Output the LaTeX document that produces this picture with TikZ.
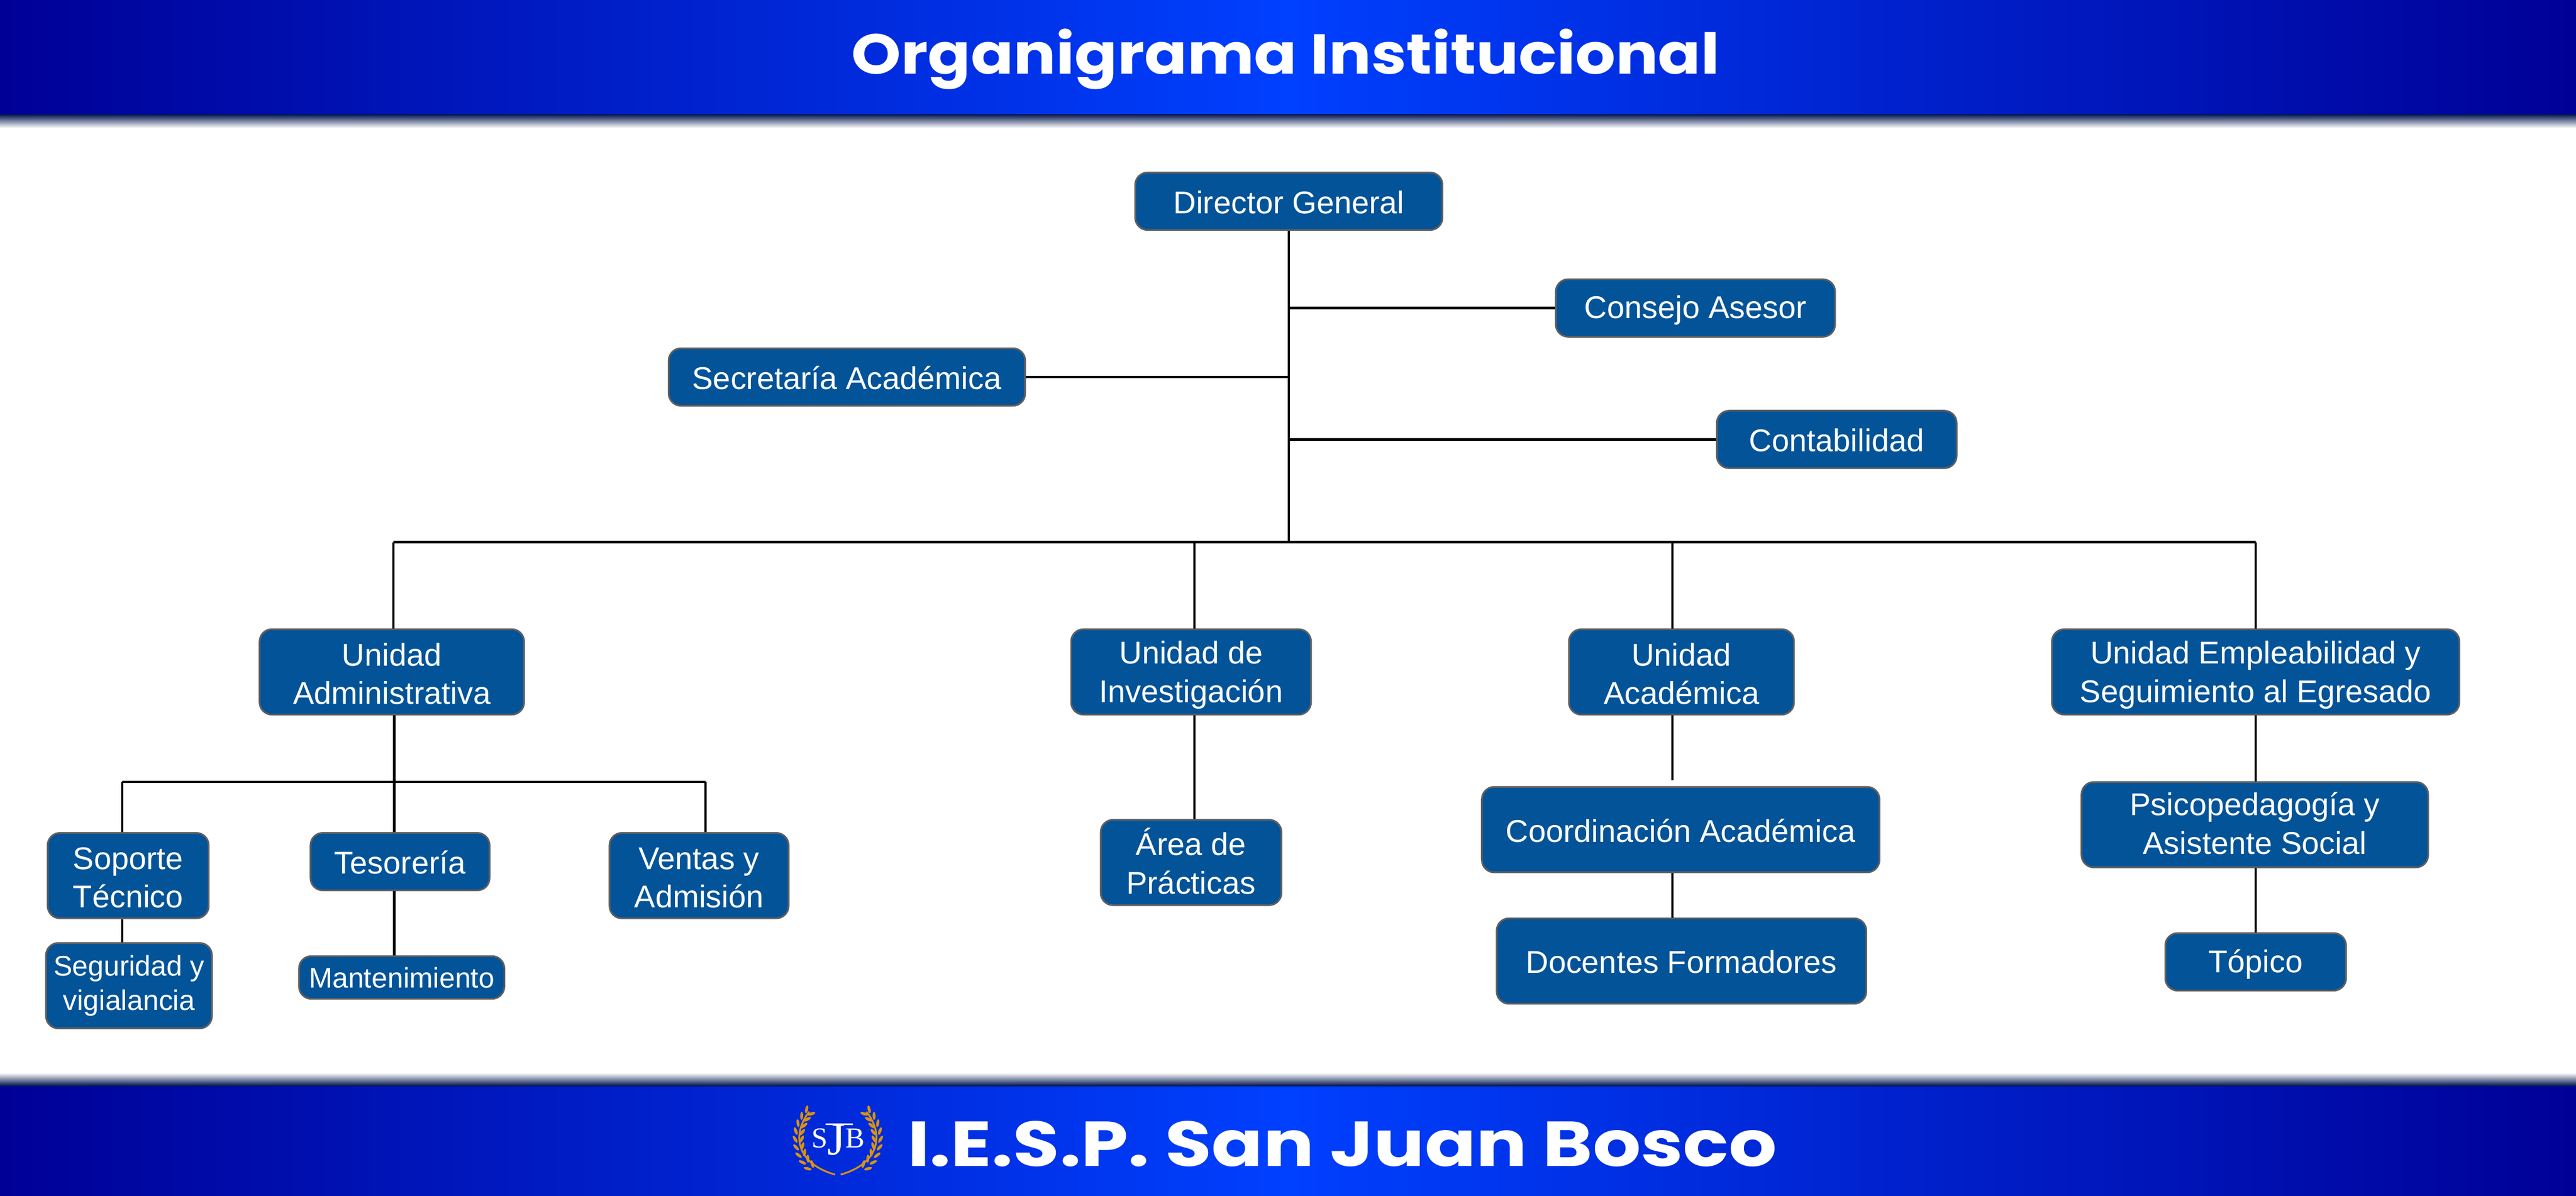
\documentclass[tikz,border=0pt]{standalone}
\usepackage{fontspec}
\usepackage{xcolor}
\setmainfont{Liberation Sans}
\newfontfamily\titlefont[FakeStretch=1.12]{Poppins}
\newfontfamily\footfont[FakeStretch=1.19]{Poppins}
\newfontfamily\crestfont{Liberation Serif}
\usetikzlibrary{positioning,calc}
\definecolor{bandedge}{HTML}{000096}
\definecolor{bandmid}{HTML}{0040FF}
\definecolor{bandshadow}{HTML}{00154F}
\definecolor{boxblue}{HTML}{035399}
\definecolor{boxline}{HTML}{5F5F5F}
\definecolor{laurel}{HTML}{D8930F}
\newcommand{\boxstrut}{\rule{0pt}{9.5pt}\rule[-1pt]{0pt}{1pt}}
\newcommand{\unitstrut}{\rule{0pt}{23.3pt}\rule[-1pt]{0pt}{1pt}}
\tikzset{
    x=0.02cm, y=-0.02cm,
    basebox/.style={draw=boxline, line width=0.6pt, fill=boxblue, text=white, rounded corners=0.15cm,
        align=center, inner sep=0pt, minimum height=0.7cm, minimum width=#1*0.02cm},
    orgbox/.style={basebox=#1, font=\fontsize{10.9}{13.3}\selectfont,
        execute at begin node=\boxstrut, execute at end node=\boxstrut},
    tallbox/.style={orgbox=#1, minimum height=1.04cm},
    unitbox/.style={tallbox=#1, execute at begin node=\unitstrut, execute at end node=\unitstrut},
    smallbox/.style={basebox=#1, font=\fontsize{9.8}{11.9}\selectfont},
    conn/.style={black, line width=0.8pt},
    band/.style={left color=bandedge, right color=bandedge, middle color=bandmid},
    leaf/.style={fill=laurel}
}

\begin{document}
\begin{tikzpicture}
    \useasboundingbox (0,0) rectangle (1568,727.7);

    % Header and footer
    \shade[band] (0,0) rectangle (1568,69.5);
    \shade[top color=bandshadow, bottom color=white] (0,69.5) rectangle (1568,78);
    \shade[band] (0,661) rectangle (1568,727.7);
    \shade[top color=white, bottom color=bandshadow] (0,653) rectangle (1568,661);
    \node[anchor=base, text=white, inner sep=0pt, font=\titlefont\bfseries\fontsize{19.5}{24}\selectfont] (title) at (782.5,45) {Organigrama Institucional};
    \node[anchor=base, text=white, inner sep=0pt, font=\footfont\bfseries\fontsize{22}{26}\selectfont] (footer) at (817,710) {I.E.S.P. San Juan Bosco};

    % Crest
    \draw[laurel, line width=0.6pt] (492.6,676.7) .. controls (482,690) and (484,708) .. (508.3,715);
    \draw[laurel, line width=0.6pt] (527.4,676.7) .. controls (538,690) and (536,708) .. (511.7,715);
    \foreach \a in {-45,-34,...,44} {
        \fill[leaf, shift={({510-26*cos(\a)},{693-26*sin(\a)})}, rotate=-\a+30] (0,0) ellipse (0.9 and 2.4);
        \fill[leaf, shift={({510-22*cos(\a)},{693-22*sin(\a)})}, rotate=-\a-30] (0,0) ellipse (0.9 and 2.4);
        \fill[leaf, shift={({510+26*cos(\a)},{693-26*sin(\a)})}, rotate=\a-30] (0,0) ellipse (0.9 and 2.4);
        \fill[leaf, shift={({510+22*cos(\a)},{693-22*sin(\a)})}, rotate=\a+30] (0,0) ellipse (0.9 and 2.4);
    }
    \node[anchor=base, text=white, inner sep=0pt, font=\crestfont\fontsize{10}{10}\selectfont] (crest) at (510.2,698.5)
        {S\raisebox{-2.5pt}{\fontsize{16}{16}\selectfont J}B};
    \draw[white, line width=0.5pt] (502.6,684.3) -- (519,684.3);

    % Top level
    \node[orgbox=187] (dirgen) at (784.5,122.5) {Director General};
    \node[orgbox=170] (consejo) at (1032,187.5) {Consejo Asesor};
    \node[orgbox=217] (secret) at (515.5,229.5) {Secretaría Académica};
    \node[orgbox=146] (contab) at (1118,267.5) {Contabilidad};

    % Units
    \node[unitbox=161] (adm) at (238.5,409) {Unidad\\Administrativa};
    \node[unitbox=146] (inv) at (725,409) {Unidad de\\Investigación};
    \node[unitbox=137] (acad) at (1023.5,409) {Unidad\\Académica};
    \node[unitbox=248] (emple) at (1373,409) {Unidad Empleabilidad y\\Seguimiento al Egresado};

    % Lower boxes
    \node[unitbox=98] (sop) at (78,533) {Soporte\\Técnico};
    \node[orgbox=109] (tes) at (243.5,524.5) {Tesorería};
    \node[unitbox=109] (ven) at (425.5,533) {Ventas y\\Admisión};
    \node[smallbox=101, minimum height=1.04cm] (seg) at (78.5,600) {Seguridad y\\vigialancia};
    \node[smallbox=125, minimum height=0.52cm] (man) at (244.5,595) {Mantenimiento};
    \node[tallbox=110] (area) at (725,525) {Área de\\Prácticas};
    \node[tallbox=242] (coord) at (1023,505) {Coordinación Académica};
    \node[tallbox=225] (doc) at (1023.5,585) {Docentes Formadores};
    \node[tallbox=211] (psi) at (1372.5,502) {Psicopedagogía y\\Asistente Social};
    \node[orgbox=110] (topi) at (1373,585.5) {Tópico};

    % Bus points
    \coordinate (bus) at (784.5,330);
    \coordinate (busl) at (239.5,330);
    \coordinate (businv) at (727,330);
    \coordinate (busacad) at (1018,330);
    \coordinate (busr) at (1373,330);
    \coordinate (admbus) at (240,476);
    \coordinate (admbusl) at (74.5,476);
    \coordinate (admbusr) at (429.5,476);
    \coordinate (acadend) at (1018,475);

    % Trunk
    \draw[conn] (dirgen.south) -- (bus);
    \draw[conn] (dirgen.south |- consejo.west) -- (consejo.west);
    \draw[conn] (secret.east) -- (secret.east -| dirgen.south);
    \draw[conn] (dirgen.south |- contab.west) -- (contab.west);
    \draw[conn] (busl) -- (busr);
    \draw[conn] (busl) -- (busl |- adm.north);
    \draw[conn] (businv) -- (businv |- inv.north);
    \draw[conn] (busacad) -- (busacad |- acad.north);
    \draw[conn] (busr) -- (busr |- emple.north);

    % Administrative branch
    \draw[conn] (admbus |- adm.south) -- (admbus |- tes.north);
    \draw[conn] (admbusl) -- (admbusr);
    \draw[conn] (admbusl) -- (admbusl |- sop.north);
    \draw[conn] (admbusr) -- (admbusr |- ven.north);
    \draw[conn] (admbusl |- sop.south) -- (admbusl |- seg.north);
    \draw[conn] (admbus |- tes.south) -- (admbus |- man.north);

    % Other branches
    \draw[conn] (businv |- inv.south) -- (businv |- area.north);
    \draw[conn] (busacad |- acad.south) -- (acadend);
    \draw[conn] (busacad |- coord.south) -- (busacad |- doc.north);
    \draw[conn] (busr |- emple.south) -- (busr |- psi.north);
    \draw[conn] (busr |- psi.south) -- (busr |- topi.north);
\end{tikzpicture}
\end{document}
